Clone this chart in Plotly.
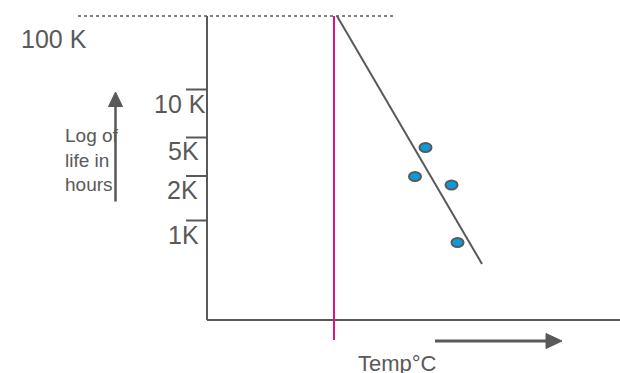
import plotly.graph_objects as go

# ---- data (chart units: x = temperature position, y = log-life position, y grows downward) ----
tick_labels = ["100 K", "10 K", "5K", "2K", "1K"]
tick_y = [16, 89.5, 137.5, 176, 220.5]     # log-life levels
label_y = [39, 104, 151, 189.5, 235]
label_x = [54, 208, 201, 200, 201]

point_temp = [425.5, 415, 451.5, 457.5]
point_life = [147.5, 176.5, 185, 242.5]

fit_temp = [337, 482]
fit_life = [16, 264]

threshold_temp = 334                       # magenta vertical marker
axis_origin = (207, 320)
axis_top = 16
axis_right = 620

GREY = "#595959"
MAGENTA = "#E0147F"
BLUE = "#0A9BDC"
FONT = "Liberation Sans, Arial, sans-serif"

fig = go.Figure()
shapes = []
annotations = []

# dotted 100K level line
shapes.append(dict(type="line", xref="x", yref="y", x0=78, x1=395, y0=tick_y[0], y1=tick_y[0],
                   line=dict(color=GREY, width=1.5, dash="dot")))
# axes
shapes.append(dict(type="line", xref="x", yref="y", x0=axis_origin[0], x1=axis_origin[0],
                   y0=axis_top, y1=axis_origin[1], line=dict(color=GREY, width=2)))
shapes.append(dict(type="line", xref="x", yref="y", x0=axis_origin[0], x1=axis_right,
                   y0=axis_origin[1], y1=axis_origin[1], line=dict(color=GREY, width=2)))
# tick overlines
for ty in tick_y[1:]:
    shapes.append(dict(type="line", xref="x", yref="y", x0=186, x1=axis_origin[0], y0=ty, y1=ty,
                       line=dict(color=GREY, width=2)))
# magenta line
shapes.append(dict(type="line", xref="x", yref="y", x0=threshold_temp, x1=threshold_temp,
                   y0=axis_top, y1=340, line=dict(color=MAGENTA, width=2)))
# fit line
shapes.append(dict(type="line", xref="x", yref="y", x0=fit_temp[0], x1=fit_temp[1],
                   y0=fit_life[0], y1=fit_life[1], line=dict(color=GREY, width=2)))
# data points as ellipses
for px, py in zip(point_temp, point_life):
    shapes.append(dict(type="circle", xref="x", yref="y", x0=px - 6, x1=px + 6, y0=py - 4.5, y1=py + 4.5,
                       fillcolor=BLUE, line=dict(color=GREY, width=2)))
# up arrow
shapes.append(dict(type="line", xref="x", yref="y", x0=115.5, x1=115.5, y0=104, y1=201.5,
                   line=dict(color=GREY, width=2.5)))
shapes.append(dict(type="path", xref="x", yref="y", path="M 108.5,106.5 L 115.5,92 L 122.5,106.5 Z",
                   fillcolor=GREY, line=dict(color=GREY, width=1)))
# right arrow
shapes.append(dict(type="line", xref="x", yref="y", x0=435, x1=548, y0=341, y1=341,
                   line=dict(color=GREY, width=3)))
shapes.append(dict(type="path", xref="x", yref="y", path="M 546,333.5 L 562,341 L 546,348.5 Z",
                   fillcolor=GREY, line=dict(color=GREY, width=1)))

# texts
for i, (t, lx, ly) in enumerate(zip(tick_labels, label_x, label_y)):
    annotations.append(dict(x=lx, y=ly, xref="x", yref="y", text=t, showarrow=False,
                            xanchor="center" if i == 0 else "right", yanchor="middle",
                            font=dict(family=FONT, size=25, color=GREY)))
annotations.append(dict(x=63, y=160, xref="x", yref="y", text="Log of<br>life in<br>hours",
                        showarrow=False, xanchor="left", yanchor="middle", align="left",
                        font=dict(family=FONT, size=19, color=GREY)))
annotations.append(dict(x=397, y=363, xref="x", yref="y", text="Temp°C", showarrow=False,
                        xanchor="center", yanchor="middle",
                        font=dict(family=FONT, size=22, color=GREY)))

fig.add_trace(go.Scatter(x=[0, 620], y=[0, 373], mode="markers", marker=dict(opacity=0),
                         hoverinfo="skip", showlegend=False))

fig.update_layout(
    width=620, height=373,
    margin=dict(l=0, r=0, t=0, b=0),
    paper_bgcolor="white", plot_bgcolor="white",
    xaxis=dict(range=[0, 620], visible=False, fixedrange=True),
    yaxis=dict(range=[373, 0], visible=False, fixedrange=True),
    shapes=shapes, annotations=annotations, showlegend=False,
)

fig.write_html(
    "out.html",
    config={"displayModeBar": False},
    post_script="document.body.style.margin='0';document.body.style.overflow='hidden';",
)
